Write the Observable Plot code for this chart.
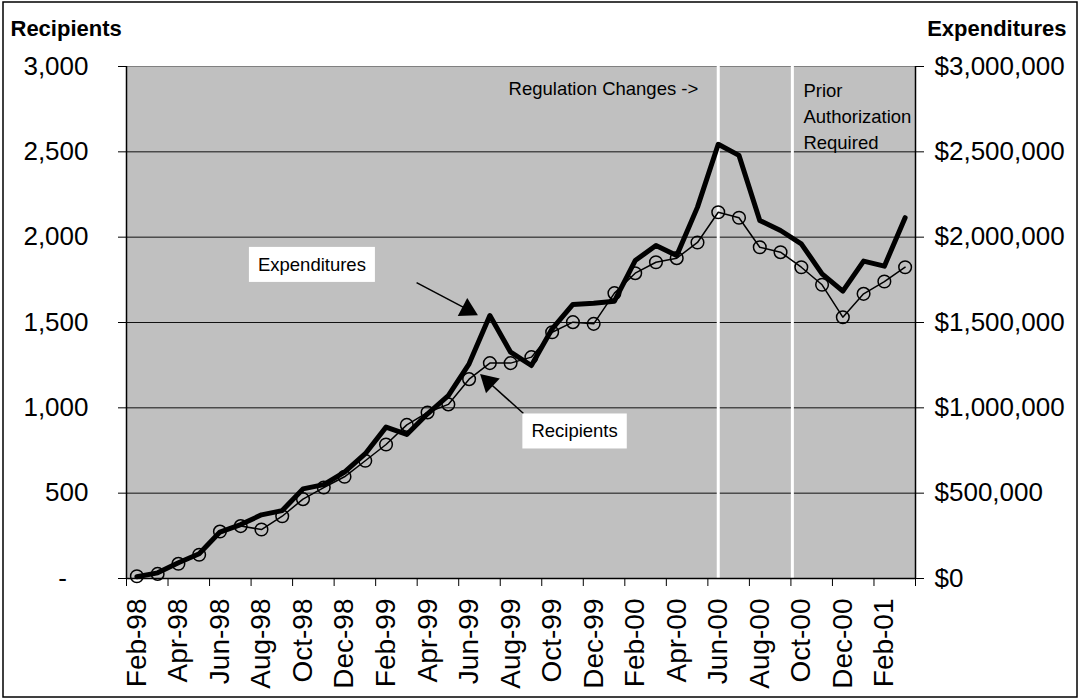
<!DOCTYPE html>
<html>
<head>
<meta charset="utf-8">
<script src="https://cdn.jsdelivr.net/npm/d3@7"></script>
<script src="https://cdn.jsdelivr.net/npm/@observablehq/plot@0.6"></script>
<style>
  body { margin: 0; background: #fff; }
  #chart svg { font-family: "Liberation Sans", Arial, sans-serif; display: block; }
</style>
</head>
<body>
<div id="chart"></div>
<script>
// ---- Data ----
const months = [
  "Feb-98","Mar-98","Apr-98","May-98","Jun-98","Jul-98","Aug-98","Sep-98","Oct-98","Nov-98","Dec-98","Jan-99",
  "Feb-99","Mar-99","Apr-99","May-99","Jun-99","Jul-99","Aug-99","Sep-99","Oct-99","Nov-99","Dec-99","Jan-00",
  "Feb-00","Mar-00","Apr-00","May-00","Jun-00","Jul-00","Aug-00","Sep-00","Oct-00","Nov-00","Dec-00","Jan-01",
  "Feb-01","Mar-01"
];
const recipients = [
  13, 27, 86, 139, 275, 307, 287, 365, 465, 533, 596, 690,
  785, 900, 973, 1020, 1168, 1262, 1262, 1297, 1443, 1502, 1492, 1672,
  1789, 1853, 1877, 1969, 2146, 2114, 1941, 1912, 1824, 1721, 1531, 1668,
  1740, 1824
];
const expenditures = [
  10000, 33000, 92000, 145000, 272000, 316000, 373000, 398000, 525000, 550000, 623000, 731000,
  887000, 844000, 965000, 1072000, 1258000, 1541000, 1326000, 1248000, 1463000, 1606000, 1613000, 1625000,
  1863000, 1951000, 1892000, 2176000, 2544000, 2479000, 2098000, 2039000, 1961000, 1785000, 1684000, 1860000,
  1830000, 2114000
];
const recipientTicks = [0, 500, 1000, 1500, 2000, 2500, 3000];
const expenditureTicks = [0, 500000, 1000000, 1500000, 2000000, 2500000, 3000000];
const expPerRecipientUnit = 1000; // $3,000,000 on the right axis lines up with 3,000 on the left
// event markers (month index): Jun-00, and between Sep-00 and Oct-00
const eventLines = [28, 31.57];
// annotations (positions in month index / recipient units)
const plainNotes = [
  {x: 17.9, y: 2883, text: "Regulation Changes ->"},
  {x: 32.1, y: 2718, text: "Prior\nAuthorization\nRequired"}
];
const boxedNotes = [
  {x: 8.43, y: 1837, text: "Expenditures"},
  {x: 21.08, y: 861, text: "Recipients"}
];
const arrows = [
  {x1: 13.47, y1: 1734, x2: 16.1, y2: 1565, hx: 15.93, hy: 1575, rotate: 118},
  {x1: 18.62, y1: 967, x2: 16.85, y2: 1160, hx: 16.94, hy: 1152, rotate: -47}
];

const data = months.map((m, i) => ({i, month: m, rec: recipients[i], exp: expenditures[i]}));
const fmt = d3.format(",");

const chart = Plot.plot({
  width: 1082,
  height: 700,
  marginLeft: 126,
  marginRight: 167,
  marginTop: 66,
  marginBottom: 122,
  style: {fontFamily: '"Liberation Sans", Arial, sans-serif', color: "#000", background: "transparent", overflow: "visible"},
  x: {domain: [-0.5, months.length - 0.5]},
  y: {domain: [0, 3000]},
  marks: [
    Plot.frame({fill: "#C0C0C0", stroke: "#808080"}),
    Plot.ruleY(recipientTicks.slice(1, -1), {stroke: "#111", strokeWidth: 1}),
    Plot.ruleX(eventLines, {stroke: "#fff", strokeWidth: 3}),
    Plot.ruleX([-0.5, months.length - 0.5], {stroke: "#000", strokeWidth: 1.5}),
    Plot.ruleY([0], {stroke: "#000", strokeWidth: 1.5}),
    Plot.axisY(recipientTicks, {
      anchor: "left", tickSize: 8, tickPadding: 30, fontSize: 26, label: null,
      tickFormat: d => d === 0 ? "-\u00a0\u00a0\u00a0" : fmt(d)
    }),
    Plot.axisY(recipientTicks, {
      anchor: "right", tickSize: 8, tickPadding: 11, fontSize: 26, label: null,
      tickFormat: d => "$" + fmt(expenditureTicks[recipientTicks.indexOf(d)])
    }),
    Plot.axisX(d3.range(-0.5, months.length, 2), {tickSize: 8, tickFormat: () => "", label: null}),
    Plot.axisX(d3.range(0, months.length, 2), {
      tickSize: 0, tickPadding: 20, tickRotate: -90, fontSize: 28, label: null,
      tickFormat: i => months[i]
    }),
    Plot.line(data, {x: "i", y: d => d.exp / expPerRecipientUnit, stroke: "#000", strokeWidth: 5}),
    Plot.line(data, {x: "i", y: "rec", stroke: "#000", strokeWidth: 1.5}),
    Plot.dot(data, {x: "i", y: "rec", r: 6.3, stroke: "#000", strokeWidth: 1.5, fill: "none"}),
    Plot.link(arrows, {x1: "x1", y1: "y1", x2: "x2", y2: "y2", stroke: "#000", strokeWidth: 1.5}),
    Plot.dot(arrows, {x: "hx", y: "hy", symbol: "triangle", r: 7.5, fill: "#000", rotate: "rotate"}),
    Plot.text(plainNotes, {x: "x", y: "y", text: "text", textAnchor: "start", lineAnchor: "middle", fontSize: 18.5, lineHeight: 1.42, fill: "#000"}),
    Plot.text(boxedNotes, {x: "x", y: "y", text: "text", textAnchor: "middle", lineAnchor: "middle", fontSize: 18.5, fill: "#000"}),
    Plot.text(["Recipients"], {frameAnchor: "top-left", dx: -116, dy: -38, textAnchor: "start", lineAnchor: "middle", fontWeight: "bold", fontSize: 22, fill: "#000"}),
    Plot.text(["Expenditures"], {frameAnchor: "top-right", dx: 151, dy: -38, textAnchor: "end", lineAnchor: "middle", fontWeight: "bold", fontSize: 22, fill: "#000"})
  ]
});

document.getElementById("chart").appendChild(chart);

// white boxes behind the callout labels
const boxedTexts = new Set(boxedNotes.map(d => d.text));
const svgNS = "http://www.w3.org/2000/svg";
chart.querySelectorAll("text").forEach(el => {
  if (!boxedTexts.has(el.textContent)) return;
  if (Math.abs(parseFloat(getComputedStyle(el).fontSize) - 18.5) > 0.6) return;
  const b = el.getBBox();
  const rect = document.createElementNS(svgNS, "rect");
  const t = el.getAttribute("transform");
  if (t) rect.setAttribute("transform", t);
  rect.setAttribute("x", b.x - 9);
  rect.setAttribute("y", b.y - 7);
  rect.setAttribute("width", b.width + 18);
  rect.setAttribute("height", b.height + 14);
  rect.setAttribute("fill", "#fff");
  rect.setAttribute("stroke", "none");
  rect.style.fill = "#fff";
  el.parentNode.insertBefore(rect, el);
});
// outer chart border
d3.select(chart).insert("rect", ":first-child")
  .attr("x", 3).attr("y", 2).attr("width", 1074).attr("height", 695)
  .attr("fill", "#fff").attr("stroke", "#000").attr("stroke-width", 1.5);
</script>
</body>
</html>
